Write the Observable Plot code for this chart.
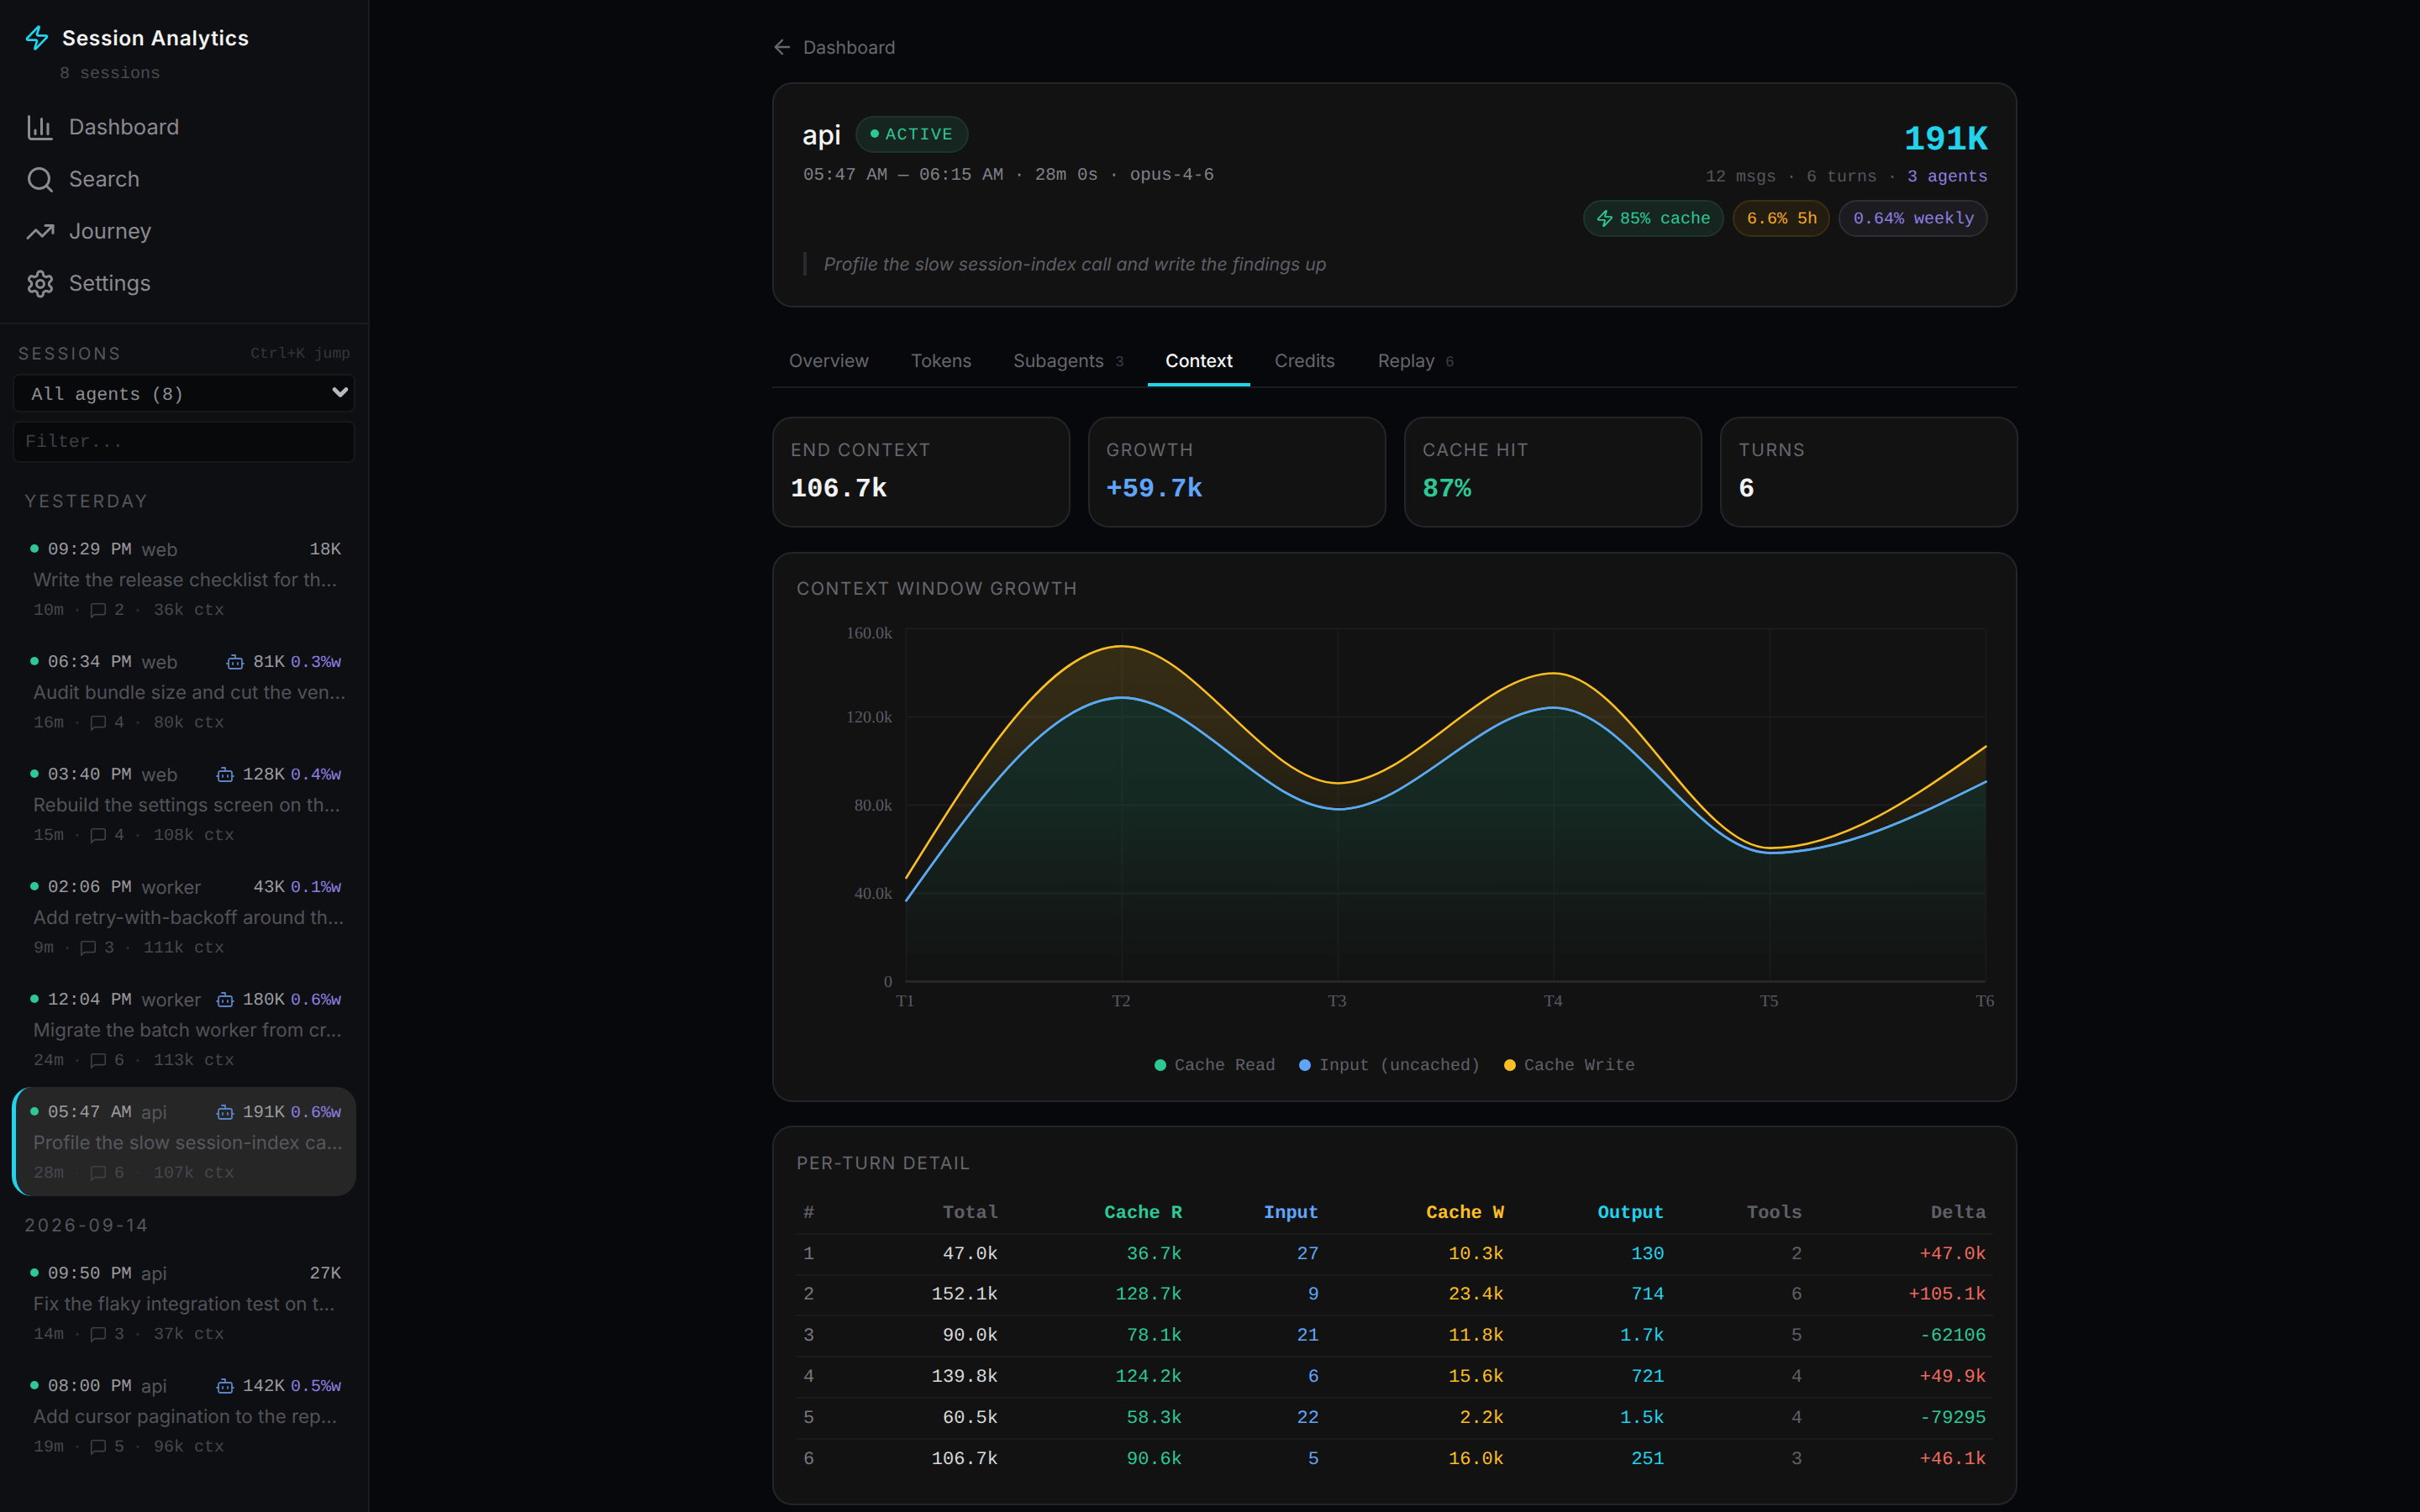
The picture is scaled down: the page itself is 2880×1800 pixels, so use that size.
<!DOCTYPE html>
<html><head><meta charset="utf-8">
<script src="https://cdn.jsdelivr.net/npm/d3@7"></script>
<script src="https://cdn.jsdelivr.net/npm/@observablehq/plot@0.6"></script>
<style>
html,body{margin:0;padding:0;width:2880px;height:1800px;overflow:hidden;background:#07080b;font-family:Inter,sans-serif;text-rendering:geometricPrecision;-webkit-font-smoothing:antialiased}
#root{position:relative;width:2880px;height:1800px;overflow:hidden}
.a{position:absolute;white-space:pre;line-height:1}
.m{font-family:"Liberation Mono",monospace}
.box{position:absolute;box-sizing:border-box}
.card{position:absolute;box-sizing:border-box;background:#121212;border:2px solid #242528;border-radius:24px}
svg.ic{position:absolute;fill:none;stroke:currentColor;stroke-linecap:round;stroke-linejoin:round}
svg text{text-rendering:geometricPrecision}
table{position:absolute;border-collapse:collapse;table-layout:fixed;font-family:"Liberation Mono",monospace;font-size:22px}
td,th{text-align:right;padding:0 8px;height:48.8px;box-sizing:border-box;border-bottom:2px solid #1b1b1d;white-space:pre}
th{font-weight:700}
tr:last-child td{border-bottom:none}
td:first-child,th:first-child{text-align:left;padding-left:8px}
</style></head><body><div id="root"></div>
<script>
// ---- chart data ----
const turns = ["T1","T2","T3","T4","T5","T6"];
const cacheRead = [36700,128700,78100,124200,58300,90600];
const inputUncached = [27,9,21,6,22,5];
const cacheWrite = [10300,23400,11800,15600,2200,16000];
const yTicks = [0,40000,80000,120000,160000];
const seriesNames = ["Cache Read","Input (uncached)","Cache Write"];
const seriesColors = ["#2dc896","#60a5fa","#fbbf24"];
// ---- table ----
const colHeads = ["#","Total","Cache R","Input","Cache W","Output","Tools","Delta"];
const colTotals = ["47.0k","152.1k","90.0k","139.8k","60.5k","106.7k"];
const colCacheR = ["36.7k","128.7k","78.1k","124.2k","58.3k","90.6k"];
const colInput = ["27","9","21","6","22","5"];
const colCacheW = ["10.3k","23.4k","11.8k","15.6k","2.2k","16.0k"];
const colOutput = ["130","714","1.7k","721","1.5k","251"];
const colTools = ["2","6","5","4","4","3"];
const colDelta = ["+47.0k","+105.1k","-62106","+49.9k","-79295","+46.1k"];
// ---- sidebar ----
const sessTimes = ["09:29 PM","06:34 PM","03:40 PM","02:06 PM","12:04 PM","05:47 AM","09:50 PM","08:00 PM"];
const sessAgents = ["web","web","web","worker","worker","api","api","api"];
const sessTokens = ["18K","81K","128K","43K","180K","191K","27K","142K"];
const sessWeekly = ["","0.3%w","0.4%w","0.1%w","0.6%w","0.6%w","","0.5%w"];
const sessBot = [0,1,1,0,1,1,0,1];
const sessTitles = ["Write the release checklist for th...","Audit bundle size and cut the ven...","Rebuild the settings screen on th...","Add retry-with-backoff around th...","Migrate the batch worker from cr...","Profile the slow session-index ca...","Fix the flaky integration test on t...","Add cursor pagination to the rep..."];
const sessDur = ["10m","16m","15m","9m","24m","28m","14m","19m"];
const sessTurns = ["2","4","4","3","6","6","3","5"];
const sessCtx = ["36k ctx","80k ctx","108k ctx","111k ctx","113k ctx","107k ctx","37k ctx","96k ctx"];
const sessRowY = [654,788,922,1056,1190,1324,1516,1650];
const navLabels = ["Dashboard","Search","Journey","Settings"];
const tabLabels = ["Overview","Tokens","Subagents","Context","Credits","Replay"];
const tabX = [939,1084,1206,1387,1517,1640];
const tabCounts = ["","","3","","","6"];
const statLabels = ["END CONTEXT","GROWTH","CACHE HIT","TURNS"];
const statValues = ["106.7k","+59.7k","87%","6"];
const statColors = ["#f2f2f2","#60a5fa","#2dc896","#f2f2f2"];
const statX = [919,1294.5,1671,2047];

const root = document.getElementById("root");
const el = (cls,css,html="",par=root)=>{const d=document.createElement("div");d.className=cls;d.style.cssText=css;d.innerHTML=html;par.appendChild(d);return d;};
const T = (t,o,par=root)=>{const d=document.createElement("div");d.className="a"+(o.m?" m":"");
  d.textContent=t;d.style.top=(o.y+(o.m?1.5:0))+"px";d.style.transform="translateY(-50%)";
  if(o.xr!==undefined)d.style.right=(2880-o.xr)+"px";else d.style.left=o.x+"px";
  d.style.fontSize=o.s+"px";d.style.color=o.c;if(o.w)d.style.fontWeight=o.w;if(o.ls)d.style.letterSpacing=o.ls+"px";if(o.i)d.style.fontStyle="italic";
  par.appendChild(d);return d;};
const ICONS={
 zap:'<path d="M4 14a1 1 0 0 1-.78-1.63l9.9-10.2a.5.5 0 0 1 .86.46l-1.92 6.02A1 1 0 0 0 13 10h7a1 1 0 0 1 .78 1.63l-9.9 10.2a.5.5 0 0 1-.86-.46l1.92-6.02A1 1 0 0 0 11 14z"/>',
 chart:'<path d="M3 3v16a2 2 0 0 0 2 2h16"/><path d="M18 17V9"/><path d="M13 17V5"/><path d="M8 17v-3"/>',
 search:'<circle cx="11" cy="11" r="8"/><path d="m21 21-4.3-4.3"/>',
 trend:'<polyline points="22 7 13.5 15.5 8.5 10.5 2 17"/><polyline points="16 7 22 7 22 13"/>',
 gear:'<path d="M12.22 2h-.44a2 2 0 0 0-2 2v.18a2 2 0 0 1-1 1.73l-.43.25a2 2 0 0 1-2 0l-.15-.08a2 2 0 0 0-2.73.73l-.22.38a2 2 0 0 0 .73 2.73l.15.1a2 2 0 0 1 1 1.72v.51a2 2 0 0 1-1 1.74l-.15.09a2 2 0 0 0-.73 2.73l.22.38a2 2 0 0 0 2.73.73l.15-.08a2 2 0 0 1 2 0l.43.25a2 2 0 0 1 1 1.73V20a2 2 0 0 0 2 2h.44a2 2 0 0 0 2-2v-.18a2 2 0 0 1 1-1.73l.43-.25a2 2 0 0 1 2 0l.15.08a2 2 0 0 0 2.73-.73l.22-.39a2 2 0 0 0-.73-2.73l-.15-.08a2 2 0 0 1-1-1.74v-.5a2 2 0 0 1 1-1.74l.15-.09a2 2 0 0 0 .73-2.73l-.22-.38a2 2 0 0 0-2.73-.73l-.15.08a2 2 0 0 1-2 0l-.43-.25a2 2 0 0 1-1-1.73V4a2 2 0 0 0-2-2z"/><circle cx="12" cy="12" r="3"/>',
 msg:'<path d="M21 15a2 2 0 0 1-2 2H7l-4 4V5a2 2 0 0 1 2-2h14a2 2 0 0 1 2 2z"/>',
 bot:'<path d="M12 8V4H8"/><rect width="16" height="12" x="4" y="8" rx="2"/><path d="M2 14h2"/><path d="M20 14h2"/><path d="M15 13v2"/><path d="M9 13v2"/>',
 back:'<path d="m12 19-7-7 7-7"/><path d="M19 12H5"/>',
 chev:'<path d="m6 9 6 6 6-6"/>'
};
const I=(name,x,cy,size,color,sw=2,par=root)=>{const n=document.createElementNS("http://www.w3.org/2000/svg","svg");
  n.setAttribute("class","ic");n.setAttribute("viewBox","0 0 24 24");n.setAttribute("width",size);n.setAttribute("height",size);
  n.setAttribute("stroke-width",sw);n.style.left=x+"px";n.style.top=(cy-size/2)+"px";n.style.color=color;n.innerHTML=ICONS[name];par.appendChild(n);return n;};

// ---------- sidebar ----------
el("box","left:0;top:0;width:440px;height:1800px;background:#0e0f12;border-right:2px solid #1b1c1f");
el("box","left:0;top:384px;width:438px;height:2px;background:#1b1c1f");
I("zap",28,45,32,"#22d3ee");
T("Session Analytics",{x:74,y:45,s:24.5,c:"#f2f2f2",w:600,ls:.7});
T("8 sessions",{x:71,y:87,s:20,c:"#4a4a52",m:1});
const navY=[152,214,276,338];
["chart","search","trend","gear"].forEach((n,i)=>{I(n,30,navY[i],36,"#8a8a90");T(navLabels[i],{x:82,y:navY[i],s:25.5,c:"#8a8a90"});});
T("SESSIONS",{x:21.5,y:420.5,s:20,c:"#55555c",ls:3.1});
T("Ctrl+K jump",{xr:417,y:420.5,s:18,c:"#35353b",m:1});
el("box","left:15px;top:445px;width:408px;height:46px;background:#08090b;border:2px solid #17181b;border-radius:8px");
T("All agents (8)",{x:37.5,y:470.5,s:21.6,c:"#8e8e95",m:1});
I("chev",391,467,28,"#b8b8bd",4);
el("box","left:15px;top:501px;width:408px;height:50px;background:#08090b;border:2px solid #17181b;border-radius:8px");
T("Filter...",{x:30,y:526,s:21.6,c:"#3e3e44",m:1});
T("YESTERDAY",{x:29,y:597,s:21,c:"#55555c",ls:3});
T("2026-09-14",{x:29,y:1459,s:21,c:"#55555c",ls:3});
el("box","left:14px;top:1294px;width:410px;height:130px;background:#262626;border-left:5px solid #22d3ee;border-radius:24px");
sessTimes.forEach((t,i)=>{
  const y=sessRowY[i];
  el("box",`left:36px;top:${y-6}px;width:10px;height:10px;border-radius:50%;background:#2dc896`);
  T(t,{x:57,y,s:20.8,c:"#9a9aa0",m:1});
  T(sessAgents[i],{x:168,y:y+2,s:21.8,c:"#55555c"});
  let rx=406;
  if(sessWeekly[i]){T(sessWeekly[i],{xr:rx,y,s:20,c:"#8d7fe0",m:1});rx=339;}
  T(sessTokens[i],{xr:rx,y,s:20.8,c:"#9a9aa0",m:1});
  if(sessBot[i]){const tx=rx-sessTokens[i].length*12.5;I("bot",tx-33.5,y,24,"#5b82c4",1.8);}
  T(sessTitles[i],{x:39.5,y:y+36.5,s:22.4,c:i==5?"#57575e":"#52525a"});
  const my=y+72, c="#47474e";
  T(sessDur[i],{x:40,y:my,s:20,c,m:1});
  const d=sessDur[i].length*12;
  T("·",{x:40+d+10,y:my,s:20,c:"#2e2e34",m:1});
  I("msg",40+d+30,my+1,22,"#3f3f46",1.8);
  T(sessTurns[i],{x:40+d+60,y:my,s:20,c,m:1});
  T("·",{x:40+d+82,y:my,s:20,c:"#2e2e34",m:1});
  T(sessCtx[i],{x:40+d+107,y:my,s:20,c,m:1});
});

// ---------- header ----------
I("back",917,56,28,"#66666e");
T("Dashboard",{x:956,y:58,s:21.3,c:"#66666e"});
el("card","left:919px;top:98px;width:1482px;height:268px");
T("api",{x:955,y:161,s:32,c:"#f5f5f5",w:500});
el("box","left:1018px;top:138px;width:135px;height:44px;background:#172520;border:2px solid #1e352d;border-radius:22px");
el("box","left:1036px;top:154px;width:10px;height:10px;border-radius:50%;background:#2dc896");
T("ACTIVE",{x:1054,y:160,s:20,c:"#2dc896",m:1,ls:1.5});
T("05:47 AM — 06:15 AM · 28m 0s · opus-4-6",{x:956,y:208.5,s:20.9,c:"#808088",m:1});
el("box","left:956px;top:300px;width:4px;height:28px;background:#2a2a30");
T("Profile the slow session-index call and write the findings up",{x:980.5,y:316,s:21.25,c:"#5e5e66",i:1});
T("191K",{xr:2366,y:166,s:41.6,c:"#22d3ee",w:700,m:1});
const sub=T("",{xr:2366,y:210,s:20,c:"#55555d",m:1});
sub.innerHTML='12 msgs · 6 turns · <span style="color:#8d7fe0">3 agents</span>';
const pill=(x,w,bg,bd,color,text,tx)=>{el("box",`left:${x}px;top:238px;width:${w}px;height:44px;background:${bg};border:2px solid ${bd};border-radius:22px`);T(text,{x:tx,y:260,s:20,c:color,m:1});};
pill(1884,168,"#172520","#1e352d","#2dc896","85% cache",1928);
I("zap",1899,260,22,"#2dc896");
pill(2062,116,"#221d10","#3a2f12","#f5a623","6.6% 5h",2079);
pill(2188,178,"#1c1c20","#2e2e36","#8d7fe0","0.64% weekly",2206);

// ---------- tabs ----------
el("box","left:919px;top:460px;width:1482px;height:2px;background:#1b1c1f");
tabLabels.forEach((t,i)=>{T(t,{x:tabX[i],y:430.5,s:21.4,c:i==3?"#f5f5f5":"#66666e",w:i==3?500:400});
  if(tabCounts[i])T(tabCounts[i],{x:tabX[i]+(i==2?121:80),y:430.5,s:18,c:"#3c3c42",m:1});});
el("box","left:1366px;top:456px;width:122px;height:4px;background:#22d3ee");

// ---------- stat cards ----------
statLabels.forEach((t,i)=>{
  el("card",`left:${statX[i]}px;top:496px;width:355px;height:132px`);
  T(t,{x:statX[i]+22,y:535.5,s:21,c:"#66666e",ls:1.6});
  T(statValues[i],{x:statX[i]+22,y:581.5,s:32,c:statColors[i],w:700,m:1});
});

// ---------- chart card ----------
el("card","left:919px;top:657px;width:1482px;height:655px");
T("CONTEXT WINDOW GROWTH",{x:948,y:701,s:21,c:"#66666e",ls:1.6});

let rows=[];
turns.forEach((t,i)=>{let base=0;[cacheRead,inputUncached,cacheWrite].forEach((arr,s)=>{rows.push({turn:t,series:seriesNames[s],y1:base,y2:base+arr[i]});base+=arr[i];});});
const gradIds=["gradRead","gradInput","gradWrite"];
const gradStops=[[0,.155],[.35,.125],[.7,.05],[1,0]];
const defs=()=>{const d=d3.create("svg:defs");
  gradIds.forEach((id,i)=>{const g=d.append("linearGradient").attr("id",id).attr("x1",0).attr("y1",0).attr("x2",0).attr("y2",1);
    gradStops.forEach(([o,a])=>g.append("stop").attr("offset",o).attr("stop-color",seriesColors[i]).attr("stop-opacity",a));});
  return d.node();};
const seriesMarks=[];
seriesNames.forEach((name,i)=>{const data=rows.filter(r=>r.series===name);
  seriesMarks.push(Plot.areaY(data,{x:"turn",y1:"y1",y2:"y2",fill:`url(#${gradIds[i]})`,curve:"monotone-x"}));});
seriesNames.forEach((name,i)=>{const data=rows.filter(r=>r.series===name);
  seriesMarks.push(Plot.lineY(data,{x:"turn",y:"y2",stroke:seriesColors[i],strokeWidth:2.6,curve:"monotone-x"}));});
const fmt=v=>v===0?"0":(v/1000).toFixed(1)+"k";
const chart=Plot.plot({
  width:1440,height:500,marginLeft:127.5,marginRight:27.5,marginTop:28,marginBottom:52,
  style:{background:"transparent",fontFamily:'"Liberation Serif",serif',fontSize:"20px",color:"#5a5a64",overflow:"visible"},
  x:{type:"point",domain:turns,padding:0,axis:null},
  y:{domain:[0,160000],axis:null},
  marks:[
    defs,
    Plot.gridY(yTicks,{stroke:"#1c1c1f",strokeOpacity:1,strokeWidth:2}),
    Plot.gridX(turns,{stroke:"#19191b",strokeOpacity:1,strokeWidth:2}),
    ...seriesMarks,
    Plot.ruleY([0],{stroke:"#2a2a2d",strokeWidth:2.5}),
    Plot.axisY(yTicks.slice(0,4),{tickSize:0,tickPadding:16,tickFormat:fmt,label:null,fill:"#5a5a64"}),
    Plot.axisY(yTicks.slice(4),{tickSize:0,tickPadding:16,tickFormat:fmt,label:null,dy:5,fill:"#5a5a64"}),
    Plot.axisX(turns,{tickSize:0,tickPadding:15,dx:-1,label:null,fill:"#5a5a64"})
  ]
});
chart.style.position="absolute";chart.style.left="950px";chart.style.top="720px";
root.appendChild(chart);

// legend
[1374,1546,1790].forEach((x,i)=>{
  el("box",`left:${x}px;top:1261px;width:14px;height:14px;border-radius:50%;background:${seriesColors[i]}`);
  T(seriesNames[i],{x:x+24,y:1268,s:20,c:"#606068",m:1});
});

// ---------- table card ----------
el("card","left:919px;top:1340px;width:1482px;height:452px");
T("PER-TURN DETAIL",{x:948,y:1385,s:21,c:"#66666e",ls:1.6});
const colColors=["#d8d8da","#2dc896","#60a5fa","#fbbf24","#22d3ee","#5f5f67"];
const headColors=["#5f5f67","#5f5f67","#2dc896","#60a5fa","#fbbf24","#22d3ee","#5f5f67","#5f5f67"];
const tbl=document.createElement("table");tbl.style.cssText="left:948px;top:1420px;width:1424px";
let html="<colgroup>"+[60,188,219,163,220,191,164,219].map(w=>`<col style="width:${w}px">`).join("")+"</colgroup><tr>";
colHeads.forEach((h,i)=>html+=`<th style="color:${headColors[i]};padding-top:1px">${h}</th>`);html+="</tr>";
colTotals.forEach((t,r)=>{
  const d=colDelta[r];
  html+=`<tr><td style="color:#77777f">${r+1}</td>`+[colTotals,colCacheR,colInput,colCacheW,colOutput,colTools].map((c,i)=>`<td style="color:${colColors[i]}">${c[r]}</td>`).join("")+`<td style="color:${d[0]==="+"?"#f0695f":"#2dc896"}">${d}</td></tr>`;
});
tbl.innerHTML=html;root.appendChild(tbl);
</script></body></html>
